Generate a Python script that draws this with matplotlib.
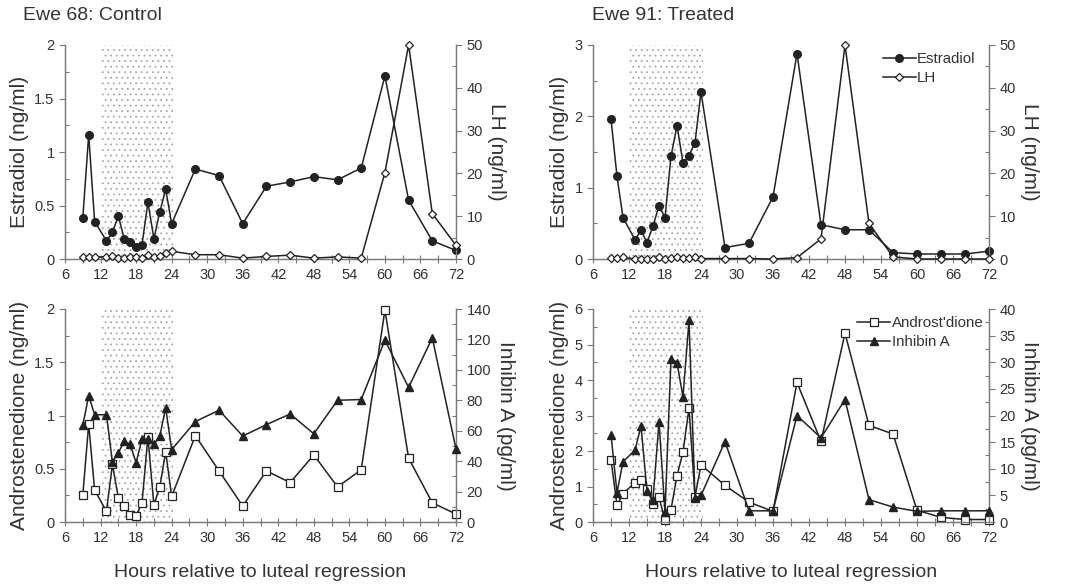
import matplotlib

matplotlib.use("Agg")
import matplotlib.pyplot as plt
from matplotlib.ticker import MultipleLocator
from matplotlib.lines import Line2D

plt.rcParams["font.family"] = ["Liberation Sans", "DejaVu Sans"]
plt.rcParams["hatch.linewidth"] = 0.6

# sampling times (hours relative to luteal regression)
hours = [9, 10, 11, 13, 14, 15, 16, 17, 18, 19, 20, 21, 22, 23, 24,
         28, 32, 36, 40, 44, 48, 52, 56, 60, 64, 68, 72]

# Ewe 68: Control
e68_estradiol = [0.38, 1.16, 0.35, 0.17, 0.25, 0.40, 0.19, 0.16, 0.115, 0.135, 0.53, 0.19, 0.44, 0.65, 0.33,
                 0.84, 0.78, 0.33, 0.68, 0.72, 0.77, 0.74, 0.85, 1.71, 0.55, 0.17, 0.08]
e68_lh = [0.5, 0.5, 0.5, 0.5, 0.7, 0.3, 0.3, 0.5, 0.4, 0.3, 1.0, 0.5, 0.8, 1.3, 1.8,
          1.0, 1.0, 0.2, 0.6, 0.9, 0.2, 0.5, 0.2, 20.2, 50.0, 10.6, 3.2]
e68_andro = [0.25, 0.92, 0.30, 0.10, 0.54, 0.23, 0.15, 0.07, 0.06, 0.18, 0.80, 0.16, 0.33, 0.66, 0.24,
             0.81, 0.48, 0.15, 0.48, 0.37, 0.63, 0.33, 0.49, 1.99, 0.60, 0.18, 0.075]
e68_inhibin = [63.5, 83, 70.5, 70.5, 39.5, 45.5, 53, 51, 39, 54.5, 54.5, 51, 56.5, 75, 47.5,
               66, 73.5, 56.5, 64, 71, 58, 80, 80.5, 119.5, 88.5, 121, 48]

# Ewe 91: Treated
e91_estradiol = [1.96, 1.16, 0.58, 0.27, 0.40, 0.23, 0.46, 0.75, 0.58, 1.44, 1.87, 1.35, 1.45, 1.63, 2.34,
                 0.16, 0.22, 0.87, 2.88, 0.48, 0.41, 0.41, 0.09, 0.07, 0.07, 0.07, 0.11]
e91_lh = [0.2, 0.2, 0.4, 0.0, 0.1, 0.1, 0.0, 0.4, 0.0, 0.2, 0.4, 0.2, 0.3, 0.4, 0.1,
          0.1, 0.1, 0.0, 0.3, 4.7, 50.0, 8.3, 0.5, 0.0, 0.0, 0.0, 0.0]
e91_andro = [1.75, 0.47, 0.80, 1.11, 1.18, 0.93, 0.52, 0.70, 0.05, 0.35, 1.30, 1.97, 3.21, 0.71, 1.61,
             1.03, 0.56, 0.30, 3.93, 2.27, 5.32, 2.72, 2.48, 0.33, 0.13, 0.07, 0.07]
e91_inhibin = [16.4, 5.5, 11.3, 13.5, 18.0, 5.8, 4.2, 18.8, 1.9, 30.7, 29.9, 23.5, 37.9, 4.5, 5.0,
               15.1, 2.1, 2.1, 20.0, 15.8, 23.0, 4.2, 2.8, 2.0, 2.1, 2.1, 2.1]

SHADE = (12, 24.4)
TXT = "#333333"
SPINE = "#7a7a7a"
LINE = "#222222"

fig = plt.figure(figsize=(10.65, 5.84), dpi=100)


def style_axis(ax, major, minor):
    ax.yaxis.set_major_locator(MultipleLocator(major))
    ax.yaxis.set_minor_locator(MultipleLocator(minor))
    ax.tick_params(axis="y", which="major", direction="out", length=4, width=0.8,
                   color=SPINE, labelcolor=TXT, labelsize=10.5)
    ax.tick_params(axis="y", which="minor", direction="in", length=3, width=0.8, color=SPINE)


def panel(rect, y1, y2, lims, steps, labels, marks, legend=None, leg_x=0.98):
    ax = fig.add_axes(rect)
    ax2 = ax.twinx()
    ax.axvspan(*SHADE, facecolor="none", edgecolor="#a8a8a8", hatch="...", linewidth=0, zorder=0)
    m1, m2 = marks
    ax.plot(hours, y1, color=LINE, lw=1.1, zorder=3, clip_on=False, **m1)
    ax2.plot(hours, y2, color=LINE, lw=1.1, zorder=3, clip_on=False, **m2)
    ax.set_xlim(6, 72)
    ax.set_ylim(0, lims[0])
    ax2.set_ylim(0, lims[1])
    ax.xaxis.set_major_locator(MultipleLocator(6))
    ax.xaxis.set_minor_locator(MultipleLocator(3))
    ax.tick_params(axis="x", which="both", direction="inout", length=6, width=0.8,
                   color=SPINE, labelcolor=TXT, labelsize=10.5)
    style_axis(ax, *steps[0])
    style_axis(ax2, *steps[1])
    for a in (ax, ax2):
        a.spines["top"].set_visible(False)
        for s in ("left", "right", "bottom"):
            a.spines[s].set_color(SPINE)
            a.spines[s].set_linewidth(0.9)
    ax.yaxis.set_major_formatter(lambda v, p: f"{v:g}")
    ax.set_ylabel(labels[0], fontsize=15, color=TXT, labelpad=4)
    ax2.set_ylabel(labels[1], fontsize=15, color=TXT, rotation=270, labelpad=17)
    if legend:
        handles = [Line2D([], [], color=LINE, lw=1.1, **m1), Line2D([], [], color=LINE, lw=1.1, **m2)]
        ax2.legend(handles, legend, loc="upper right", bbox_to_anchor=(leg_x, 1.03), frameon=False,
                   fontsize=10.8, handlelength=2.2, handletextpad=0.1, labelspacing=0.35,
                   labelcolor=TXT)
    return ax, ax2


circ = dict(marker="o", ms=5.5, mfc=LINE, mec=LINE)
diam = dict(marker="D", ms=4.5, mfc="white", mec=LINE, mew=0.9)
sq = dict(marker="s", ms=5.5, mfc="white", mec=LINE, mew=0.9)
tri = dict(marker="^", ms=6, mfc=LINE, mec=LINE)

W1, W2 = 391 / 1065, 396 / 1065
top_b, top_h = 1 - 259 / 584, 214 / 584
bot_b, bot_h = 1 - 522 / 584, 213 / 584

panel([65 / 1065, top_b, W1, top_h], e68_estradiol, e68_lh, (2, 50),
      ((0.5, 0.25), (10, 5)), ("Estradiol (ng/ml)", "LH (ng/ml)"), (circ, diam))
panel([593 / 1065, top_b, W2, top_h], e91_estradiol, e91_lh, (3, 50),
      ((1, 0.5), (10, 5)), ("Estradiol (ng/ml)", "LH (ng/ml)"), (circ, diam),
      legend=("Estradiol", "LH"), leg_x=1.0)
axb1, _ = panel([65 / 1065, bot_b, W1, bot_h], e68_andro, e68_inhibin, (2, 140),
                ((0.5, 0.25), (20, 10)), ("Androstenedione (ng/ml)", "Inhibin A (pg/ml)"), (sq, tri))
axb2, _ = panel([593 / 1065, bot_b, W2, bot_h], e91_andro, e91_inhibin, (6, 40),
                ((1, 0.5), (5, 2.5)), ("Androstenedione (ng/ml)", "Inhibin A (pg/ml)"), (sq, tri),
                legend=("Androst'dione", "Inhibin A"), leg_x=1.02)

for a in (axb1, axb2):
    a.set_xlabel("Hours relative to luteal regression", fontsize=14, color=TXT, labelpad=14)

fig.text(23 / 1065, 1 - 15 / 584, "Ewe 68: Control", fontsize=14, color=TXT, va="center")
fig.text(592 / 1065, 1 - 15 / 584, "Ewe 91: Treated", fontsize=14, color=TXT, va="center")

fig.savefig("out.png", dpi=100, facecolor="white")
